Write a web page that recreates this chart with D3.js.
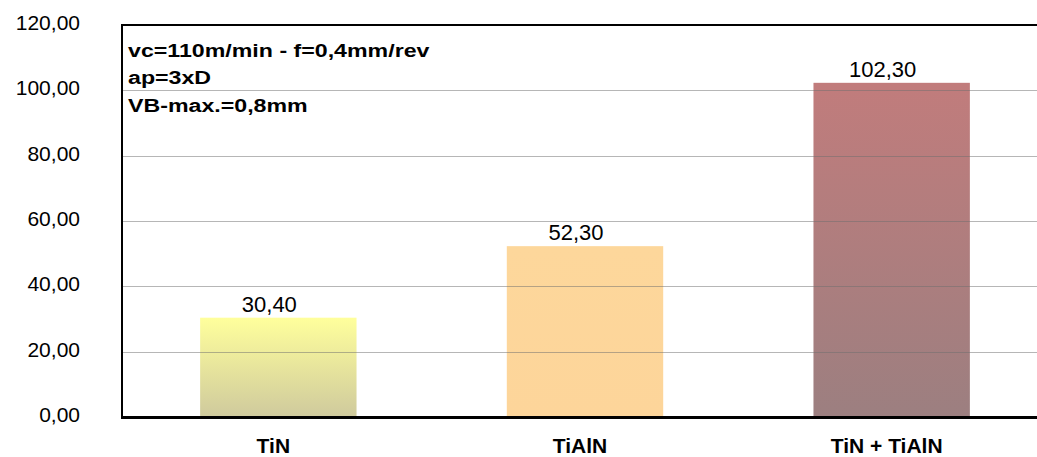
<!DOCTYPE html>
<html>
<head>
<meta charset="utf-8">
<script src="https://cdn.jsdelivr.net/npm/d3@7"></script>
<style>
  html, body { margin: 0; padding: 0; background: #fff; }
  svg { display: block; font-family: "Liberation Sans", Arial, sans-serif; }
</style>
</head>
<body>
<svg id="chart" width="1037" height="457"></svg>
<script>
const categories = ["TiN", "TiAlN", "TiN + TiAlN"];
const values = [30.4, 52.3, 102.3];
const valueLabels = ["30,40", "52,30", "102,30"];
const yTicks = [0, 20, 40, 60, 80, 100, 120];
const annotation = ["vc=110m/min - f=0,4mm/rev", "ap=3xD", "VB-max.=0,8mm"];
const topColors = ["#ffff9c", "#fdd79b", "#c17c7c"];
const bottomColors = ["#cfca9d", "#fdd59a", "#9c7f80"];

(function () {
const svg = d3.select("#chart");
const pLeft = 122, pRight = 1037, pTop = 25, pBottom = 417;

const y = d3.scaleLinear().domain([0, 120]).range([pBottom, pTop]);
const x = d3.scaleBand().domain(categories).range([125, 1045])
  .paddingInner(0.49).paddingOuter(0.245);
const cx = c => x(c) + x.bandwidth() / 2;

const defs = svg.append("defs");
categories.forEach((c, i) => {
  const g = defs.append("linearGradient").attr("id", "grad" + i)
    .attr("x1", 0).attr("y1", 0).attr("x2", 0).attr("y2", 1);
  g.append("stop").attr("offset", "0%").attr("stop-color", topColors[i]);
  g.append("stop").attr("offset", "100%").attr("stop-color", bottomColors[i]);
});

// bars
svg.selectAll("rect.bar").data(values).join("rect")
  .attr("class", "bar")
  .attr("x", (d, i) => x(categories[i]))
  .attr("width", x.bandwidth())
  .attr("y", d => y(d))
  .attr("height", d => y(0) - y(d))
  .attr("fill", (d, i) => `url(#grad${i})`);

// gridlines (drawn on top, translucent)
svg.selectAll("line.grid").data(yTicks.filter(t => t > 0 && t < 120)).join("line")
  .attr("class", "grid")
  .attr("x1", pLeft).attr("x2", pRight)
  .attr("y1", d => Math.round(y(d)) + 0.5).attr("y2", d => Math.round(y(d)) + 0.5)
  .attr("stroke", "#6e6e6e").attr("stroke-opacity", 0.5).attr("stroke-width", 1);

// frame: top, left, bottom
svg.append("line").attr("x1", pLeft).attr("x2", pRight).attr("y1", pTop).attr("y2", pTop)
  .attr("stroke", "#000").attr("stroke-width", 2);
svg.append("line").attr("x1", pLeft).attr("x2", pLeft).attr("y1", pTop - 1).attr("y2", pBottom + 1)
  .attr("stroke", "#000").attr("stroke-width", 2);
svg.append("line").attr("x1", pLeft - 1).attr("x2", pRight).attr("y1", pBottom + 0.5).attr("y2", pBottom + 0.5)
  .attr("stroke", "#000").attr("stroke-width", 3);

// y axis labels
const yAxis = d3.axisLeft(y).tickValues(yTicks)
  .tickFormat(d => d3.format(".2f")(d).replace(".", ","))
  .tickSize(0).tickPadding(0);
const ya = svg.append("g").attr("transform", `translate(80,0)`).call(yAxis);
ya.select(".domain").remove();
ya.selectAll("text").attr("font-size", 21).attr("fill", "#000")
  .attr("font-family", "Liberation Sans, Arial, sans-serif")
  .attr("dy", "0.22em").attr("text-anchor", "end");

// category labels
const xAxis = d3.axisBottom(x).tickSize(0).tickPadding(0);
const xa = svg.append("g").attr("transform", `translate(-5,${pBottom})`).call(xAxis);
xa.select(".domain").remove();
xa.selectAll("text").attr("font-size", 21).attr("font-weight", "bold").attr("fill", "#000")
  .attr("font-family", "Liberation Sans, Arial, sans-serif")
  .attr("y", 36).attr("dy", 0);

// value labels
svg.selectAll("text.val").data(values).join("text")
  .attr("class", "val")
  .attr("x", (d, i) => cx(categories[i]) - 9)
  .attr("y", d => y(d) - 6)
  .attr("text-anchor", "middle").attr("font-size", 22).attr("fill", "#000")
  .text((d, i) => valueLabels[i]);

// annotation
svg.selectAll("text.ann").data(annotation).join("text")
  .attr("class", "ann")
  .attr("transform", (d, i) => `translate(128,${56.5 + i * 27.5}) scale(1.22,1)`)
  .attr("font-size", 19).attr("font-weight", "bold").attr("fill", "#000")
  .text(d => d);
})();
</script>
</body>
</html>
